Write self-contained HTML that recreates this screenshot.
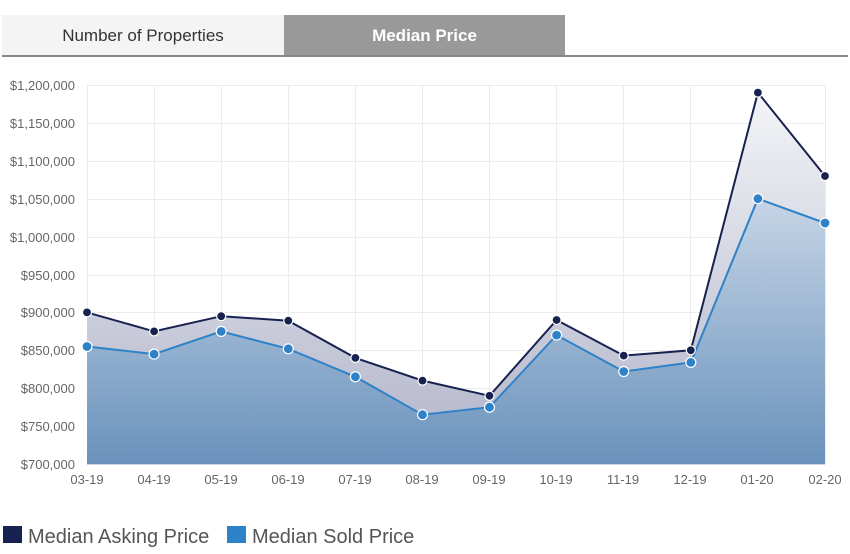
<!DOCTYPE html>
<html><head><meta charset="utf-8"><style>
body{margin:0;background:#fff;width:850px;height:554px;overflow:hidden;font-family:"Liberation Sans",sans-serif}
.tab{position:absolute;top:15px;height:41px;line-height:41px;text-align:center;font-size:17px}
</style></head><body>
<div class="tab" style="left:2px;width:282px;background:#f4f4f4;color:#333">Number of Properties</div>
<div class="tab" style="left:284px;width:281px;background:#999;color:#fff;font-weight:bold">Median Price</div>
<div style="position:absolute;left:2px;top:55px;width:846px;height:2px;background:#888"></div>
<svg width="850" height="554" style="position:absolute;left:0;top:0">
<defs>
<linearGradient id="ga" gradientUnits="userSpaceOnUse" x1="0" y1="90" x2="0" y2="464"><stop offset="0" stop-color="#f4f5f8"/><stop offset="1" stop-color="#b0b3c8"/></linearGradient>
<linearGradient id="gs" gradientUnits="userSpaceOnUse" x1="0" y1="198" x2="0" y2="464"><stop offset="0" stop-color="#c6d5e6"/><stop offset="1" stop-color="#6a92bc"/></linearGradient>
</defs>
<g stroke="#ececec" stroke-width="1">
<line x1="87" x2="825" y1="85.5" y2="85.5"/><line x1="87" x2="825" y1="123.5" y2="123.5"/><line x1="87" x2="825" y1="161.5" y2="161.5"/><line x1="87" x2="825" y1="199.5" y2="199.5"/><line x1="87" x2="825" y1="237.5" y2="237.5"/><line x1="87" x2="825" y1="275.5" y2="275.5"/><line x1="87" x2="825" y1="312.5" y2="312.5"/><line x1="87" x2="825" y1="350.5" y2="350.5"/><line x1="87" x2="825" y1="388.5" y2="388.5"/><line x1="87" x2="825" y1="426.5" y2="426.5"/>
<line x1="87.5" x2="87.5" y1="85" y2="464"/><line x1="154.5" x2="154.5" y1="85" y2="464"/><line x1="221.5" x2="221.5" y1="85" y2="464"/><line x1="288.5" x2="288.5" y1="85" y2="464"/><line x1="355.5" x2="355.5" y1="85" y2="464"/><line x1="422.5" x2="422.5" y1="85" y2="464"/><line x1="489.5" x2="489.5" y1="85" y2="464"/><line x1="556.5" x2="556.5" y1="85" y2="464"/><line x1="623.5" x2="623.5" y1="85" y2="464"/><line x1="690.5" x2="690.5" y1="85" y2="464"/><line x1="757.5" x2="757.5" y1="85" y2="464"/><line x1="825.5" x2="825.5" y1="85" y2="464"/>
</g>
<polygon fill="url(#ga)" points="87,464 87,312.4 154.1,331.4 221.2,316.2 288.3,320.7 355.4,357.9 422.5,380.6 489.5,395.8 556.6,320 623.7,355.6 690.8,350.3 757.9,92.6 825,176 825,464"/>
<polygon fill="url(#gs)" points="87,464 87,346.5 154.1,354.1 221.2,331.4 288.3,348.8 355.4,376.8 422.5,414.7 489.5,407.2 556.6,335.1 623.7,371.5 690.8,362.4 757.9,198.7 825,223 825,464"/>
<polyline fill="none" stroke="#182250" stroke-width="2" points="87,312.4 154.1,331.4 221.2,316.2 288.3,320.7 355.4,357.9 422.5,380.6 489.5,395.8 556.6,320 623.7,355.6 690.8,350.3 757.9,92.6 825,176"/>
<polyline fill="none" stroke="#2e82c8" stroke-width="2" points="87,346.5 154.1,354.1 221.2,331.4 288.3,348.8 355.4,376.8 422.5,414.7 489.5,407.2 556.6,335.1 623.7,371.5 690.8,362.4 757.9,198.7 825,223"/>
<g fill="#182250" stroke="#fff" stroke-width="1.2">
<circle cx="87" cy="312.4" r="4.5"/><circle cx="154.1" cy="331.4" r="4.5"/><circle cx="221.2" cy="316.2" r="4.5"/><circle cx="288.3" cy="320.7" r="4.5"/><circle cx="355.4" cy="357.9" r="4.5"/><circle cx="422.5" cy="380.6" r="4.5"/><circle cx="489.5" cy="395.8" r="4.5"/><circle cx="556.6" cy="320" r="4.5"/><circle cx="623.7" cy="355.6" r="4.5"/><circle cx="690.8" cy="350.3" r="4.5"/><circle cx="757.9" cy="92.6" r="4.5"/><circle cx="825" cy="176" r="4.5"/>
</g>
<g fill="#2e82c8" stroke="#fff" stroke-width="1.2">
<circle cx="87" cy="346.5" r="5"/><circle cx="154.1" cy="354.1" r="5"/><circle cx="221.2" cy="331.4" r="5"/><circle cx="288.3" cy="348.8" r="5"/><circle cx="355.4" cy="376.8" r="5"/><circle cx="422.5" cy="414.7" r="5"/><circle cx="489.5" cy="407.2" r="5"/><circle cx="556.6" cy="335.1" r="5"/><circle cx="623.7" cy="371.5" r="5"/><circle cx="690.8" cy="362.4" r="5"/><circle cx="757.9" cy="198.7" r="5"/><circle cx="825" cy="223" r="5"/>
</g>
<line x1="87" x2="825" y1="464.5" y2="464.5" stroke="#ccd6eb"/>
<g font-size="13" fill="#666" text-anchor="end">
<text x="75" y="90">$1,200,000</text><text x="75" y="128">$1,150,000</text><text x="75" y="166">$1,100,000</text><text x="75" y="204">$1,050,000</text><text x="75" y="242">$1,000,000</text><text x="75" y="280">$950,000</text><text x="75" y="317">$900,000</text><text x="75" y="355">$850,000</text><text x="75" y="393">$800,000</text><text x="75" y="431">$750,000</text><text x="75" y="469">$700,000</text>
</g>
<g font-size="13" fill="#666" text-anchor="middle">
<text x="87" y="484">03-19</text><text x="154" y="484">04-19</text><text x="221" y="484">05-19</text><text x="288" y="484">06-19</text><text x="355" y="484">07-19</text><text x="422" y="484">08-19</text><text x="489" y="484">09-19</text><text x="556" y="484">10-19</text><text x="623" y="484">11-19</text><text x="690" y="484">12-19</text><text x="757" y="484">01-20</text><text x="825" y="484">02-20</text>
</g>
<rect x="3" y="526" width="19" height="17" fill="#182250"/>
<text x="28" y="543" font-size="20" fill="#555">Median Asking Price</text>
<rect x="227" y="526" width="19" height="17" fill="#2e82c8"/>
<text x="252" y="543" font-size="20" fill="#555">Median Sold Price</text>
</svg>
</body></html>
